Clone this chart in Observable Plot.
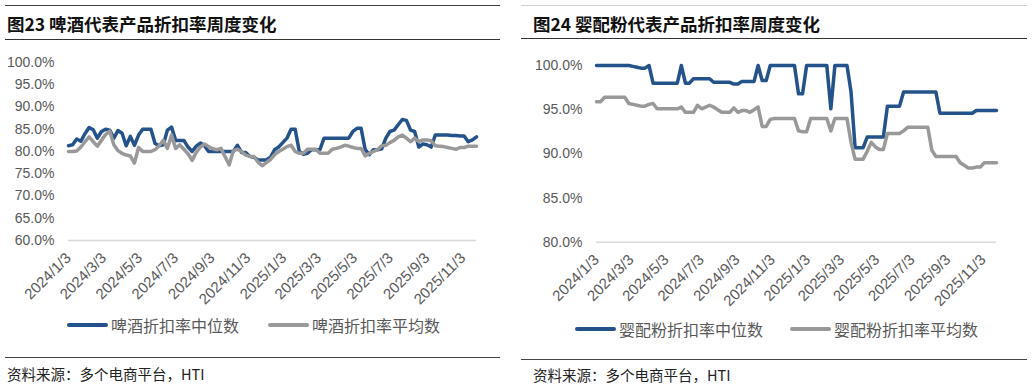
<!DOCTYPE html>
<html><head><meta charset="utf-8">
<script src="https://cdn.jsdelivr.net/npm/d3@7"></script>
<script src="https://cdn.jsdelivr.net/npm/@observablehq/plot@0.6"></script>
<style>
body{margin:0;background:#fff;}
#page{position:relative;width:1033px;height:388px;overflow:hidden;font-family:"Noto Sans CJK SC","Liberation Sans",sans-serif;background:#fff;}
.rule{position:absolute;height:0;}
.title{position:absolute;font-size:17.5px;font-weight:bold;color:#111;white-space:nowrap;line-height:1;}
.legend{position:absolute;font-size:16px;color:#595959;white-space:nowrap;line-height:1;display:flex;align-items:center;}
.sw{display:inline-block;width:41px;height:4px;border-radius:2px;margin-right:3px;}
.src{position:absolute;font-size:14.5px;color:#222;white-space:nowrap;line-height:1;}
.chart{position:absolute;}
</style></head><body><div id="page">
<div class="rule" style="left:5px;top:5px;width:495px;border-top:1.5px solid #404040"></div>
<div class="title" style="left:7px;top:15px">图23 啤酒代表产品折扣率周度变化</div>
<div class="rule" style="left:5px;top:39px;width:495px;border-top:1.5px solid #333"></div>
<div class="chart" id="c1" style="left:0px;top:40px"></div>
<div class="legend" style="left:67px;top:317px"><span class="sw" style="background:#24528a"></span>啤酒折扣率中位数<span class="sw" style="background:#999;margin-left:29px"></span>啤酒折扣率平均数</div>
<div class="rule" style="left:5px;top:357px;width:495px;border-top:1.5px solid #444"></div>
<div class="src" style="left:7px;top:367px">资料来源：多个电商平台，HTI</div>

<div class="rule" style="left:521px;top:5px;width:506px;border-top:1.5px solid #d0d0d0"></div>
<div class="title" style="left:533px;top:15px">图24 婴配粉代表产品折扣率周度变化</div>
<div class="rule" style="left:521px;top:37.5px;width:506px;border-top:1.5px solid #333"></div>
<div class="chart" id="c2" style="left:516px;top:40px"></div>
<div class="legend" style="left:575px;top:321px"><span class="sw" style="background:#24528a"></span>婴配粉折扣率中位数<span class="sw" style="background:#999;margin-left:27px"></span>婴配粉折扣率平均数</div>
<div class="rule" style="left:521px;top:359px;width:506px;border-top:1.5px solid #444"></div>
<div class="src" style="left:533px;top:368px">资料来源：多个电商平台，HTI</div>
</div>
<script>
// weekly observations starting 2024/1/3
const startDate = "2024/1/3";
const tickLabels = ["2024/1/3","2024/3/3","2024/5/3","2024/7/3","2024/9/3","2024/11/3","2025/1/3","2025/3/3","2025/5/3","2025/7/3","2025/9/3","2025/11/3"];

const beerMedian = [
81.3,81.5,82.8,82.3,84.0,85.4,84.9,83.0,84.5,85.0,
84.8,83.0,84.7,84.1,81.3,83.4,81.4,83.7,85.0,85.0,
85.0,81.8,81.3,81.5,84.8,85.5,82.5,82.5,82.5,81.0,
80.0,81.2,81.9,81.3,80.0,80.0,80.0,80.0,80.0,80.0,
80.0,81.4,79.8,79.8,78.9,78.7,78.1,78.1,78.1,78.7,
80.4,81.0,82.0,83.0,85.0,85.0,80.0,79.4,79.6,80.4,
80.4,80.4,83.0,83.0,83.0,83.0,83.0,83.0,83.0,84.5,
85.2,85.2,80.4,79.3,80.4,80.4,80.6,83.0,84.5,84.8,
86.0,87.2,87.0,84.8,84.5,81.0,81.7,81.5,81.0,83.7,
83.7,83.7,83.7,83.6,83.6,83.5,83.5,82.2,82.6,83.3];
const beerMean = [
80.0,80.0,80.1,81.0,82.2,83.3,82.2,81.2,82.5,83.8,
84.6,81.5,80.2,79.6,79.2,79.0,77.4,80.9,80.0,80.0,
80.0,80.4,81.3,82.5,80.7,83.7,80.7,81.5,80.5,79.5,
78.0,79.8,81.0,81.7,81.1,80.6,80.4,80.7,78.8,77.0,
80.2,80.5,80.0,79.2,78.9,78.9,77.6,76.8,77.5,78.2,
79.3,80.0,80.5,81.1,81.4,80.0,79.6,79.6,80.5,80.5,
80.5,79.6,79.6,79.6,80.5,80.7,81.0,81.4,81.2,80.9,
80.7,80.7,79.0,79.6,80.0,80.4,81.3,81.4,82.0,82.5,
83.3,83.7,83.0,82.2,83.0,82.2,82.6,82.6,82.4,81.3,
81.2,81.1,80.9,80.7,80.5,80.9,80.9,81.2,81.2,81.2];
const infantMedian = [
100,100,100,100,100,100,100,100,100,99.9,
99.8,99.7,99.7,100,98.0,98.0,98.0,98.0,98.0,98.0,
98.0,100,98.0,98.0,98.5,98.5,98.5,98.5,98.5,98.1,
98.1,98.1,98.1,98.1,97.9,97.9,98.2,98.2,98.2,98.2,
100,98.3,98.3,100,100,100,100,100,100,100,
96.8,96.8,100,100,100,100,100,100,95.1,100,
100,100,100,97.0,90.7,90.7,90.7,91.9,91.9,91.9,
91.9,91.9,95.4,95.4,95.4,95.4,97.0,97.0,97.0,97.0,
97.0,97.0,97.0,97.0,97.0,94.6,94.6,94.6,94.6,94.6,
94.6,94.6,94.6,94.6,94.9,94.9,94.9,94.9,94.9,94.9];
const infantMean = [
95.9,95.9,96.4,96.4,96.4,96.4,96.4,96.4,95.7,95.6,
95.5,95.4,95.4,95.6,95.7,95.1,95.1,95.1,95.1,95.1,
95.1,95.3,94.7,94.7,94.7,95.5,95.1,95.3,95.5,95.3,
95.0,94.7,94.7,94.7,95.2,94.7,94.9,94.9,94.7,95.0,
95.3,93.1,93.1,93.9,94.0,94.0,94.0,94.0,94.0,94.0,
92.6,92.5,92.5,94.0,94.0,94.0,94.0,94.0,92.6,94.0,
94.0,94.0,94.0,91.3,89.4,89.4,89.4,90.3,91.3,90.8,
90.5,90.5,92.3,92.3,92.3,92.3,92.6,93.0,93.0,93.0,
93.0,93.0,93.0,90.4,89.7,89.7,89.7,89.7,89.7,89.7,
89.0,88.7,88.4,88.4,88.5,88.5,89.0,89.0,89.0,89.0];

const parseD = s => { const [y,m,d] = s.split("/").map(Number); return new Date(y, m-1, d); };
const fmtD = d => `${d.getFullYear()}/${d.getMonth()+1}/${d.getDate()}`;
const t0 = parseD(startDate);
const dates = beerMedian.map((_, i) => d3.timeDay.offset(t0, 7*i));
const tickDates = tickLabels.map(parseD);

const BLUE = "#24528a", GRAY = "#999999";

function makeChart(median, mean, yDomain, yTicks, opts) {
  const rows = dates.map((date, i) => ({date, median: median[i], mean: mean[i]}));
  return Plot.plot({
    width: opts.width, height: 280,
    marginLeft: opts.ml, marginRight: opts.mr, marginTop: opts.mt, marginBottom: opts.mb,
    style: {fontFamily: "'Liberation Sans', Arial, sans-serif", color: "#595959", background: "transparent", overflow: "visible"},
    x: {type: "time", domain: [dates[0], dates[dates.length-1]]},
    y: {domain: yDomain},
    marks: [
      Plot.ruleY([yDomain[0]], {stroke: "#d9d9d9", strokeWidth: 1.5}),
      Plot.axisY({ticks: yTicks, tickFormat: d => d.toFixed(1) + "%", tickSize: 0, tickPadding: 14, fontSize: 14, label: null}),
      Plot.axisX({ticks: tickDates, tickFormat: fmtD, tickRotate: -45, tickSize: 0, tickPadding: 15, fontSize: 15, label: null}),
      Plot.line(rows, {x: "date", y: "median", stroke: BLUE, strokeWidth: 3.5, strokeLinejoin: "round", strokeLinecap: "round"}),
      Plot.line(rows, {x: "date", y: "mean", stroke: GRAY, strokeWidth: 3.5, strokeLinejoin: "round", strokeLinecap: "round"})
    ]
  });
}

document.getElementById("c1").append(makeChart(beerMedian, beerMean, [60, 100], [60,65,70,75,80,85,90,95,100],
  {width: 500, ml: 68, mr: 24, mt: 22, mb: 80}));
document.getElementById("c2").append(makeChart(infantMedian, infantMean, [80, 100], [80,85,90,95,100],
  {width: 517, ml: 80, mr: 37, mt: 25, mb: 78.3}));
</script>
</body></html>
